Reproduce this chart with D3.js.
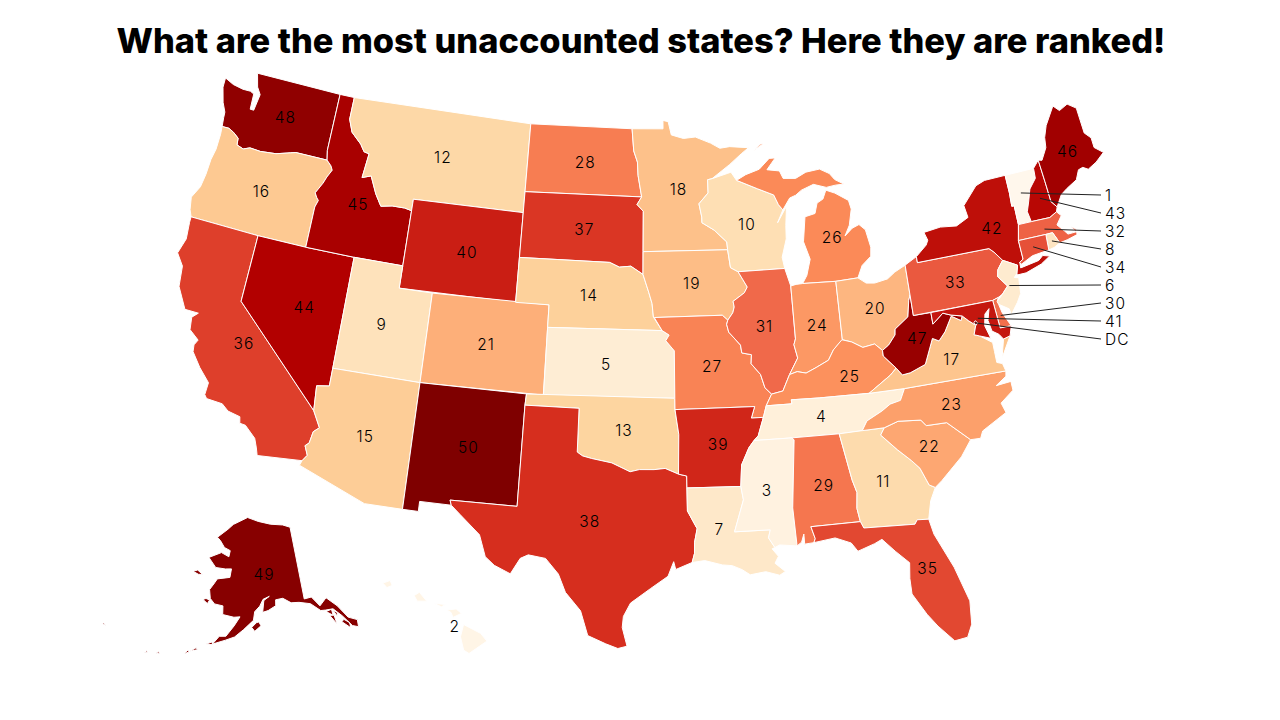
<!DOCTYPE html>
<html><head><meta charset="utf-8">
<script src="https://cdn.jsdelivr.net/npm/d3@7"></script>
<style>html,body{margin:0;background:#fff}svg{display:block}</style></head>
<body><svg id="c" width="1280" height="720"></svg>
<script>
const title = "What are the most unaccounted states? Here they are ranked!";
const stateCodes = ["WA","OR","CA","NV","ID","MT","WY","UT","AZ","CO","NM","ND","SD","NE","KS","OK","TX","MN","IA","MO","AR","LA","WI","IL","MI","IN","OH","KY","TN","MS","AL","GA","FL","SC","NC","VA","WV","PA","NY","VT","NH","ME","MA","RI","CT","NJ","DE","MD","DC","AK","HI"];
const ranks = [48,16,36,44,45,12,40,9,15,21,50,28,37,14,5,13,38,18,19,27,39,7,10,31,26,24,20,25,4,3,29,11,35,22,23,17,47,33,42,1,43,46,32,8,34,6,30,41,51,49,2];
const calloutStates = ["VT","NH","MA","RI","CT","NJ","DE","MD","DC"];
const calloutLabels = ["1","43","32","8","34","6","30","41","DC"];
const colorStops = ["#fff7ec","#fee8c8","#fdd49e","#fdbb84","#fc8d59","#ef6548","#d7301f","#b30000","#7f0000"];

const WA=[[[-122.76,49],[-117.03,49],[-117.04,46.42],[-116.92,45.99],[-118.98,46],[-119.3,45.93],[-120.2,45.73],[-121.2,45.65],[-121.9,45.68],[-122.3,45.55],[-122.75,45.65],[-122.8,45.95],[-123.2,46.15],[-123.55,46.26],[-124,46.25],[-124.07,46.65],[-124.1,46.9],[-124.4,47.3],[-124.7,47.95],[-124.72,48.38],[-124.1,48.2],[-123.4,48.12],[-122.88,48.13],[-122.62,48.05],[-122.57,47.35],[-122.33,47.35],[-122.2,48.1],[-122.5,48.4]]];
const OR=[[[-124,46.25],[-123.55,46.26],[-123.2,46.15],[-122.8,45.95],[-122.75,45.65],[-122.3,45.55],[-121.9,45.68],[-121.2,45.65],[-120.2,45.73],[-119.3,45.93],[-118.98,46],[-116.92,45.99],[-116.6,45.78],[-116.46,45.6],[-116.7,45.25],[-116.85,44.95],[-117.2,44.45],[-117.03,44.25],[-116.9,44.15],[-117.03,43.83],[-117.03,42],[-120,42],[-124.21,42],[-124.4,42.3],[-124.55,42.84],[-124.2,43.4],[-124.1,44],[-124.07,44.7],[-123.95,45.2],[-123.95,45.9]]];
const CA=[[[-124.21,42],[-120,42],[-120,39],[-114.63,35],[-114.14,34.3],[-114.43,34.08],[-114.53,33.55],[-114.72,33.4],[-114.5,33],[-114.72,32.72],[-117.12,32.53],[-117.25,32.85],[-117.45,33.25],[-118.1,33.72],[-118.42,33.75],[-118.5,34.03],[-119.2,34.15],[-119.6,34.4],[-120.5,34.45],[-120.65,34.6],[-120.62,35.15],[-121.3,35.7],[-121.9,36.3],[-121.95,36.6],[-121.8,36.85],[-122.4,37.2],[-122.5,37.75],[-122.2,38],[-123,38],[-123.7,38.9],[-123.85,39.8],[-124.35,40.3],[-124.1,41],[-124.2,41.75]]];
const NV=[[[-120,42],[-117.03,42],[-114.04,42],[-114.04,36.2],[-114.74,36.1],[-114.63,35],[-120,39]]];
const ID=[[[-117.03,49],[-116.05,49],[-116.05,48],[-115.72,47.45],[-115,47],[-114.7,46.7],[-114.35,46.65],[-114.5,45.55],[-113.95,45.7],[-113.45,44.95],[-113,44.45],[-112.3,44.55],[-111.5,44.55],[-111.05,44.48],[-111.05,42],[-114.04,42],[-117.03,42],[-117.03,43.83],[-116.9,44.15],[-117.03,44.25],[-117.2,44.45],[-116.85,44.95],[-116.7,45.25],[-116.46,45.6],[-116.6,45.78],[-116.92,45.99],[-117.04,46.42]]];
const MT=[[[-116.05,49],[-104.05,49],[-104.05,45],[-111.05,45],[-111.05,44.48],[-111.5,44.55],[-112.3,44.55],[-113,44.45],[-113.45,44.95],[-113.95,45.7],[-114.5,45.55],[-114.35,46.65],[-114.7,46.7],[-115,47],[-115.72,47.45],[-116.05,48]]];
const WY=[[[-111.05,45],[-104.05,45],[-104.05,41],[-111.05,41]]];
const UT=[[[-114.04,42],[-111.05,42],[-111.05,41],[-109.05,41],[-109.05,37],[-114.04,37]]];
const CO=[[[-109.05,41],[-102.05,41],[-102.05,37],[-109.05,37]]];
const AZ=[[[-114.04,37],[-109.05,37],[-109.05,31.33],[-111.07,31.33],[-114.81,32.5],[-114.72,32.72],[-114.5,33],[-114.72,33.4],[-114.53,33.55],[-114.43,34.08],[-114.14,34.3],[-114.63,35],[-114.74,36.1],[-114.04,36.2]]];
const NM=[[[-109.05,37],[-103,37],[-103.04,36.5],[-103.06,32],[-106.62,32],[-106.53,31.78],[-108.21,31.78],[-108.21,31.33],[-109.05,31.33]]];
const ND=[[[-104.05,49],[-97.23,49],[-97.1,48],[-96.85,47.5],[-96.8,46.9],[-96.56,45.94],[-104.05,45.94]]];
const SD=[[[-104.05,45.94],[-96.56,45.94],[-96.85,45.6],[-96.45,45.3],[-96.45,43.5],[-96.45,42.49],[-97.2,42.85],[-97.9,42.8],[-98.5,43],[-104.05,43]]];
const NE=[[[-104.05,43],[-98.5,43],[-97.9,42.8],[-97.2,42.85],[-96.45,42.49],[-96.1,41.7],[-95.9,41.2],[-95.82,40.6],[-95.31,40],[-102.05,40],[-102.05,41],[-104.05,41]]];
const KS=[[[-102.05,40],[-95.31,40],[-94.9,39.8],[-95.1,39.55],[-94.61,39.1],[-94.62,37],[-102.04,37]]];
const OK=[[[-103,37],[-94.62,37],[-94.62,36.5],[-94.43,35.4],[-94.48,33.64],[-95.2,33.9],[-95.8,33.85],[-96.6,33.85],[-97.1,33.75],[-97.7,33.98],[-98.1,34.13],[-99.2,34.3],[-99.7,34.4],[-100,34.56],[-100,36.5],[-103.04,36.5]]];
const TX=[[[-103.04,36.5],[-100,36.5],[-100,34.56],[-99.7,34.4],[-99.2,34.3],[-98.1,34.13],[-97.7,33.98],[-97.1,33.75],[-96.6,33.85],[-95.8,33.85],[-95.2,33.9],[-94.48,33.64],[-94.04,33.55],[-94.04,33.02],[-94.04,32],[-93.55,31.2],[-93.7,30.6],[-93.72,30.1],[-93.85,29.7],[-94.7,29.4],[-94.8,29.75],[-95.1,29.1],[-96,28.55],[-97,27.9],[-97.35,27.3],[-97.4,26.8],[-97.15,25.96],[-97.6,25.85],[-98.2,26.05],[-99.1,26.4],[-99.5,27.5],[-100.3,28.3],[-100.7,29.1],[-101.4,29.77],[-102.3,29.88],[-102.7,29.7],[-103.15,28.98],[-104,29.3],[-104.5,29.65],[-104.9,30.6],[-106,31.4],[-106.53,31.78],[-106.62,32],[-103.06,32]]];
const MN=[[[-97.23,49],[-95.15,49],[-95.15,49.38],[-94.8,49.32],[-94.6,48.72],[-93.8,48.55],[-93,48.6],[-92,48.3],[-91.4,48.05],[-90.75,48.1],[-89.5,48],[-90,47.75],[-90.8,47.3],[-92,46.7],[-92.29,46.66],[-92.29,46.07],[-92.9,45.6],[-92.75,45],[-92.75,44.75],[-92,44.4],[-91.25,43.85],[-91.22,43.5],[-96.45,43.5],[-96.45,45.3],[-96.85,45.6],[-96.56,45.94],[-96.8,46.9],[-96.85,47.5],[-97.1,48]]];
const IA=[[[-96.45,43.5],[-91.22,43.5],[-91.1,42.7],[-90.65,42.5],[-90.15,41.8],[-90.35,41.55],[-91.05,41.2],[-91,40.95],[-91.1,40.7],[-91.42,40.38],[-91.73,40.61],[-95.77,40.58],[-95.82,40.6],[-95.9,41.2],[-96.1,41.7],[-96.45,42.49]]];
const MO=[[[-95.77,40.58],[-91.73,40.61],[-91.42,40.38],[-91.5,40.2],[-91.4,39.85],[-90.75,39.25],[-90.7,38.9],[-90.15,38.8],[-90.2,38.4],[-89.7,37.9],[-89.5,37.3],[-89.15,37],[-89.5,36.5],[-89.7,36],[-90.37,36],[-90.15,36.5],[-94.62,36.5],[-94.62,37],[-94.61,39.1],[-95.1,39.55],[-94.9,39.8],[-95.31,40]]];
const AR=[[[-94.62,36.5],[-90.15,36.5],[-90.37,36],[-89.7,36],[-90.05,35.2],[-90.3,35],[-90.6,34.7],[-91.05,33.95],[-91.15,33],[-94.04,33.02],[-94.04,33.55],[-94.48,33.64],[-94.43,35.4]]];
const LA=[[[-94.04,33.02],[-91.15,33],[-91.05,32.4],[-91.6,31],[-89.73,31],[-89.85,30.65],[-89.55,30.2],[-89.7,30.15],[-89.4,29.8],[-89.6,29.5],[-89.1,29.1],[-89.4,28.95],[-90.1,29.15],[-90.9,29.05],[-91.3,29.3],[-91.8,29.5],[-92.3,29.55],[-93.2,29.77],[-93.85,29.7],[-93.72,30.1],[-93.7,30.6],[-93.55,31.2],[-94.04,32]]];
const MS=[[[-90.3,35],[-88.2,35],[-88.1,34.9],[-88.47,31.9],[-88.4,30.2],[-89.3,30.3],[-89.55,30.2],[-89.85,30.65],[-89.73,31],[-91.6,31],[-91.05,32.4],[-91.15,33],[-91.05,33.95],[-90.6,34.7]]];
const TN=[[[-90.3,35],[-90.05,35.2],[-89.7,36],[-89.5,36.5],[-88.05,36.5],[-88.07,36.68],[-86.5,36.65],[-83.68,36.6],[-81.68,36.59],[-82,36.1],[-82.6,36],[-83.1,35.75],[-84,35.4],[-84.32,35],[-85.6,34.98],[-88.2,35]]];
const KY=[[[-89.5,36.5],[-89.15,37],[-88.5,37.1],[-88.05,37.8],[-87.6,37.9],[-87.1,37.8],[-86.5,38],[-85.75,38.27],[-85.4,38.7],[-84.85,39.1],[-84.3,38.95],[-83.7,38.65],[-83,38.73],[-82.6,38.4],[-82.6,38.15],[-81.97,37.54],[-82.35,37.27],[-83.68,36.6],[-86.5,36.65],[-88.07,36.68],[-88.05,36.5]]];
const IL=[[[-90.65,42.5],[-87.8,42.5],[-87.53,41.7],[-87.53,39.35],[-87.65,39.1],[-87.5,38.5],[-88.05,37.8],[-88.5,37.1],[-89.15,37],[-89.5,37.3],[-89.7,37.9],[-90.2,38.4],[-90.15,38.8],[-90.7,38.9],[-90.75,39.25],[-91.4,39.85],[-91.5,40.2],[-91.42,40.38],[-91.1,40.7],[-91,40.95],[-91.05,41.2],[-90.35,41.55],[-90.15,41.8]]];
const IN=[[[-87.53,41.7],[-87.2,41.75],[-86.8,41.76],[-84.8,41.7],[-84.82,39.1],[-85.4,38.7],[-85.75,38.27],[-86.5,38],[-87.1,37.8],[-87.6,37.9],[-88.05,37.8],[-87.5,38.5],[-87.65,39.1],[-87.53,39.35]]];
const OH=[[[-84.8,41.7],[-83.45,41.73],[-83,41.45],[-82.5,41.4],[-81.7,41.5],[-81.2,41.75],[-80.52,41.98],[-80.52,40.64],[-80.65,40.4],[-80.85,39.7],[-81.7,39.25],[-81.75,39],[-82.2,38.6],[-82.6,38.4],[-83,38.73],[-83.7,38.65],[-84.3,38.95],[-84.82,39.1]]];
const MI=[[[-86.8,41.76],[-86.5,42.1],[-86.2,42.8],[-86.5,43.6],[-86.25,44.7],[-85.6,44.8],[-85.4,45.25],[-85,45.4],[-84.75,45.78],[-84.2,45.6],[-83.4,45.2],[-83.3,44.8],[-83.55,44.1],[-83.9,43.65],[-83.4,43.95],[-82.95,44.07],[-82.6,43.8],[-82.42,43],[-82.5,42.6],[-83.1,42.25],[-83.45,41.73],[-84.8,41.7]],
 [[-90.42,46.57],[-89.8,46.8],[-88.9,47],[-88.2,47.45],[-87.8,47.45],[-88.4,46.95],[-87.6,46.85],[-87.4,46.5],[-86.6,46.45],[-85.9,46.68],[-85,46.75],[-84.4,46.5],[-84.1,46.2],[-83.55,45.95],[-84.1,45.95],[-84.7,45.9],[-85.5,46.1],[-86.3,45.9],[-86.7,45.7],[-87.1,45.6],[-87.6,45.1],[-87.85,45.35],[-88.1,45.8],[-89.1,46.13]],
 [[-89.2,47.85],[-88.45,48.15],[-88.7,48.12]]];
const WI=[[[-92.29,46.66],[-92,46.7],[-91,46.9],[-90.75,46.95],[-90.42,46.57],[-89.1,46.13],[-88.1,45.8],[-87.85,45.35],[-87.6,45.1],[-88,44.55],[-87.35,45.25],[-87.5,44.4],[-87.55,43.8],[-87.9,43],[-87.8,42.5],[-90.65,42.5],[-91.1,42.7],[-91.22,43.5],[-91.25,43.85],[-92,44.4],[-92.75,44.75],[-92.75,45],[-92.9,45.6],[-92.29,46.07]]];
const ME=[[[-71.08,45.3],[-70.85,45.25],[-70.4,45.75],[-70.3,46.2],[-70,46.7],[-69.23,47.46],[-68.9,47.18],[-68.3,47.36],[-67.8,47.07],[-67.78,45.9],[-67.45,45.6],[-67.45,45.15],[-66.98,44.82],[-67.6,44.5],[-68.2,44.3],[-68.5,44.45],[-68.8,44.4],[-69.1,44],[-69.8,43.75],[-70.25,43.55],[-70.7,43.07],[-70.98,43.37],[-71.02,44.3]]];
const NH=[[[-71.5,45],[-71.08,45.3],[-71.02,44.3],[-70.98,43.37],[-70.7,43.07],[-70.82,42.87],[-71.3,42.7],[-72.46,42.73],[-72.55,43.2],[-72.3,43.65],[-72.05,44.15],[-71.55,44.55]]];
const VT=[[[-73.35,45.01],[-71.5,45],[-71.55,44.55],[-72.05,44.15],[-72.3,43.65],[-72.55,43.2],[-72.46,42.73],[-73.27,42.74],[-73.25,43.6],[-73.4,43.6],[-73.35,44.2]]];
const NY=[[[-79.76,42.27],[-79.05,42.7],[-78.9,42.9],[-79.05,43.27],[-78,43.37],[-77,43.28],[-76.2,43.55],[-76.3,44.1],[-75.3,44.85],[-74.7,45],[-73.35,45.01],[-73.35,44.2],[-73.4,43.6],[-73.25,43.6],[-73.27,42.74],[-73.5,42.05],[-73.49,41.2],[-73.73,41.1],[-73.75,40.85],[-72.6,40.98],[-72.3,41.15],[-71.9,41.05],[-72.5,40.8],[-73.5,40.58],[-74,40.58],[-74.05,40.65],[-73.9,41],[-74.7,41.36],[-75.1,41.8],[-75.35,42],[-79.76,42]]];
const MA=[[[-73.5,42.05],[-73.27,42.74],[-72.46,42.73],[-71.3,42.7],[-70.82,42.87],[-70.6,42.65],[-71,42.3],[-70.65,41.95],[-70.5,41.78],[-70,41.78],[-70.2,42.07],[-69.95,41.9],[-69.98,41.65],[-70.6,41.55],[-71.12,41.5],[-71.2,41.67],[-71.38,42.02],[-71.8,42.02]]];
const RI=[[[-71.8,42.02],[-71.38,42.02],[-71.2,41.67],[-71.12,41.5],[-71.5,41.37],[-71.86,41.32]]];
const CT=[[[-73.5,42.05],[-71.8,42.02],[-71.86,41.32],[-72.9,41.25],[-73.65,41],[-73.73,41.1],[-73.49,41.2]]];
const NJ=[[[-74.7,41.36],[-73.9,41],[-74.05,40.65],[-74.25,40.5],[-74,40.45],[-74.1,39.75],[-74.4,39.4],[-74.9,38.93],[-74.95,39.2],[-75.5,39.5],[-75.55,39.63],[-75.15,39.9],[-74.75,40.2],[-75.2,40.7],[-75.1,41]]];
const PA=[[[-80.52,41.98],[-79.76,42.27],[-79.76,42],[-75.35,42],[-75.1,41.8],[-74.7,41.36],[-75.1,41],[-75.2,40.7],[-74.75,40.2],[-75.15,39.9],[-75.42,39.8],[-75.79,39.72],[-80.52,39.72]]];
const DE=[[[-75.79,39.72],[-75.42,39.8],[-75.55,39.63],[-75.5,39.5],[-75.4,39.1],[-75.05,38.45],[-75.7,38.46]]];
const MD=[[[-79.48,39.72],[-75.79,39.72],[-75.7,38.46],[-75.05,38.45],[-75.24,38.03],[-75.65,37.95],[-75.85,38.2],[-76.2,38.4],[-76.3,38.9],[-76.1,39.4],[-76.4,39.2],[-76.55,38.7],[-76.35,38.1],[-76.95,38.3],[-77.25,38.4],[-77.05,38.8],[-77.4,39.05],[-77.72,39.32],[-78.35,39.45],[-78.8,39.6],[-79.48,39.2]]];
const DC=[[[-77.12,38.93],[-77.03,39],[-76.91,38.89],[-77.04,38.79]]];
const VA=[[[-83.68,36.6],[-81.68,36.59],[-75.9,36.55],[-76,36.9],[-76.3,37],[-76.3,37.5],[-76.3,37.9],[-76.95,38.3],[-77.25,38.4],[-77.05,38.8],[-77.4,39.05],[-77.72,39.32],[-77.83,39.13],[-78.35,39.4],[-78.87,38.77],[-79.3,38.42],[-79.65,38.58],[-80.3,37.5],[-81.22,37.24],[-81.68,37.2],[-81.97,37.54],[-82.35,37.27]],
 [[-75.65,37.95],[-75.24,38.03],[-75.95,37.15]]];
const WV=[[[-82.6,38.15],[-82.6,38.4],[-82.2,38.6],[-81.75,39],[-81.7,39.25],[-80.85,39.7],[-80.65,40.4],[-80.52,40.64],[-80.52,39.72],[-79.48,39.72],[-79.48,39.2],[-78.8,39.6],[-78.35,39.45],[-77.72,39.32],[-77.83,39.13],[-78.35,39.4],[-78.87,38.77],[-79.3,38.42],[-79.65,38.58],[-80.3,37.5],[-81.22,37.24],[-81.68,37.2],[-81.97,37.54]]];
const NC=[[[-84.32,35],[-84,35.4],[-83.1,35.75],[-82.6,36],[-82,36.1],[-81.68,36.59],[-75.9,36.55],[-75.96,36.32],[-76.6,36],[-75.75,36.05],[-75.74,35.65],[-76.53,35.2],[-76.37,34.75],[-77.82,34.15],[-78,33.85],[-78.55,33.87],[-79.67,34.8],[-80.8,34.82],[-81.05,35.1],[-82.3,35.2],[-83.1,35]]];
const SC=[[[-83.1,35],[-82.3,35.2],[-81.05,35.1],[-80.8,34.82],[-79.67,34.8],[-78.55,33.87],[-79.2,33.2],[-79.9,32.7],[-80.45,32.3],[-80.85,32.05],[-81.15,32.2],[-81.5,33],[-81.9,33.4],[-82.55,33.95],[-83.35,34.7]]];
const GA=[[[-85.6,34.98],[-84.32,35],[-83.1,35],[-83.35,34.7],[-82.55,33.95],[-81.9,33.4],[-81.5,33],[-81.15,32.2],[-80.85,32.05],[-81.2,31.5],[-81.45,30.7],[-82.05,30.75],[-82.2,30.57],[-84.86,30.7],[-85,31],[-85.1,31.6],[-85,32.3],[-85.18,32.87]]];
const FL=[[[-87.6,31],[-85,31],[-84.86,30.7],[-82.2,30.57],[-82.05,30.75],[-81.45,30.7],[-81.3,30],[-80.55,28.4],[-80.05,26.8],[-80.15,25.75],[-80.45,25.2],[-81.1,25.13],[-81.8,25.9],[-82.25,26.5],[-82.85,27.5],[-82.85,28.2],[-82.75,28.9],[-83.4,29.5],[-84,30.1],[-84.4,29.95],[-85.3,29.7],[-85.6,30.1],[-86.4,30.4],[-87.52,30.28],[-87.43,30.45]]];
const AL=[[[-88.2,35],[-85.6,34.98],[-85.18,32.87],[-85,32.3],[-85.1,31.6],[-85,31],[-87.6,31],[-87.43,30.45],[-87.52,30.28],[-88,30.25],[-88,30.7],[-88.15,30.35],[-88.4,30.2],[-88.47,31.9],[-88.1,34.9]]];
const AK=[[[-141,69.65],[-141,60.3],[-139.1,60.35],[-137.5,59],[-135.5,59.8],[-133.4,58.4],[-131.8,56.6],[-130,55.9],[-130.3,55],[-131.5,55.4],[-133,57],[-134.6,58.2],[-136.4,58.3],[-137.6,58.4],[-139.7,59.55],[-142.5,60],[-144.5,60.1],[-146.5,60.8],[-148.4,60.7],[-148.5,59.95],[-150.5,59.4],[-151.9,59.2],[-151.5,60.7],[-150,61.2],[-151.7,60.85],[-152.6,60],[-153.9,59.3],[-154.2,58.2],[-156.5,57],[-158.5,56],[-160.5,55.5],[-163.3,54.8],[-162,55.9],[-160.5,56],[-158.8,57.4],[-157.5,58.6],[-159,58.5],[-161.8,58.7],[-162,59.8],[-164.2,59.9],[-165.5,60.5],[-166.1,61.6],[-165,62.6],[-164.5,63.1],[-161,63.5],[-160.8,64.6],[-162.6,64.5],[-165.5,64.5],[-168.1,65.6],[-164.5,66.5],[-162,66.1],[-161.8,66.9],[-163.8,67.2],[-165.5,68],[-166.7,68.35],[-163.5,69.6],[-161.8,70.3],[-156.6,71.35],[-152.5,70.85],[-148,70.4],[-143.5,70.1]],
 [[-154.6,57.3],[-153.9,56.8],[-152.4,57.5],[-152.9,58],[-153.5,57.9]],
 [[-167.3,60.2],[-166,59.8],[-165.6,60.3],[-166.6,60.4]],
 [[-171.7,63.4],[-170,63.2],[-168.8,63.3],[-170.5,63.7]],
 [[-164.9,54.6],[-163.2,54.75],[-163.5,55.05]],
 [[-167.8,53.4],[-166.3,53.8],[-166.7,54]],
 [[-169,52.9],[-168,53.3],[-168.3,53.5]],
 [[-174.6,52.05],[-173.9,52.1],[-174.2,52.35]],
 [[-176.9,51.7],[-176.4,51.8],[-176.6,52]],
 [[172.5,52.85],[173.4,52.8],[172.9,53]],
 [[-133.5,56.3],[-132,55.2],[-131.9,55.9],[-132.9,56.5]],
 [[-135.8,57.5],[-134.7,56.2],[-134.8,57.4]],
 [[-136.4,58.1],[-135,57.4],[-135,58.2]],
 [[-134.7,58],[-134.1,57.1],[-133.9,57.6]]];
const HI=[[[-155.9,20.25],[-155.1,19.85],[-154.8,19.5],[-155.65,18.95],[-155.9,19.1],[-156.05,19.7]],
 [[-156.7,20.9],[-156.25,20.95],[-156,20.75],[-156.4,20.57],[-156.5,20.8]],
 [[-157.3,21.2],[-156.75,21.15],[-156.95,21.05]],
 [[-158.25,21.55],[-158,21.7],[-157.65,21.3],[-158.1,21.3]],
 [[-159.75,22.1],[-159.4,22.22],[-159.3,22],[-159.55,21.9]]];
const shapes={WA,OR,CA,NV,ID,MT,WY,UT,AZ,CO,NM,ND,SD,NE,KS,OK,TX,MN,IA,MO,AR,LA,WI,IL,MI,IN,OH,KY,TN,MS,AL,GA,FL,SC,NC,VA,WV,PA,NY,VT,NH,ME,MA,RI,CT,NJ,DE,MD,DC,AK,HI};

// layout: how far each state's label sits from its computed centroid
const labelNudge={WA:[4,0],OR:[1,0],CA:[4,0],NV:[5,0],ID:[3,1],MT:[1,1],WY:[4,2],UT:[-1,1],AZ:[1,0],ND:[3,1],SD:[1,1],NE:[2,1],KS:[-3,1],OK:[1,1],TX:[2,-1],MN:[1,1],AR:[3,0],LA:[-9,-3],WI:[1,1],IL:[-2,1],MI:[-2,-5],IN:[2,2],OH:[2,0],KY:[11,1],TN:[-3,1],MS:[-2,0],AL:[2,0],GA:[-2,0],FL:[11,0],SC:[1,0],NC:[1,0],VA:[2,0],WV:[2,-2],PA:[1,1],NY:[10,0],ME:[2,0],AK:[5,1],HI:[-4,-2],NM:[3,1]};

const W=1280,H=720,k=1283,cx=640,cy=360;
const lower=d3.geoAlbers().scale(k).translate([cx,cy]);
const alaska=d3.geoConicEqualArea().rotate([154,0]).center([-2,58.5]).parallels([55,65]).scale(k*0.35).translate([cx-0.307*k,cy+0.201*k]);
const hawaii=d3.geoConicEqualArea().rotate([157,0]).center([-3,19.9]).parallels([8,18]).scale(k).translate([cx-0.205*k,cy+0.212*k]);
const pathFor=code=>d3.geoPath(code==="AK"?alaska:code==="HI"?hawaii:lower);

const color=d3.scaleLinear().domain(colorStops.map((c,i)=>1+i*49/(colorStops.length-1))).range(colorStops).clamp(true);

function feature(code){
  const rings=shapes[code].map(r=>{
    const ring=[...r,r[0]];
    const poly={type:"Polygon",coordinates:[ring]};
    return d3.geoArea(poly)>Math.PI*2?[ring.slice().reverse()]:[ring];
  });
  return {type:"Feature",id:code,geometry:{type:"MultiPolygon",coordinates:rings}};
}
const features=stateCodes.map(feature);
const rankOf=new Map(stateCodes.map((c,i)=>[c,ranks[i]]));
const svg=d3.select("#c");
svg.append("text").attr("x",W/2+1).attr("y",53).attr("text-anchor","middle")
  .attr("font-family","Inter, sans-serif").attr("font-weight",800).attr("font-size",34.4).attr("fill","#000").text(title);

svg.append("g").selectAll("path").data(features).join("path")
  .attr("d",f=>pathFor(f.id)(f)).attr("fill",f=>color(rankOf.get(f.id)))
  .attr("stroke","#fff").attr("stroke-width",1).attr("stroke-linejoin","round");

const mainOf=f=>f.id==="HI"?f:({type:"Feature",geometry:{type:"Polygon",coordinates:f.geometry.coordinates[0]}});
const called=new Set(calloutStates);
svg.append("g").selectAll("text").data(features.filter(f=>!called.has(f.id))).join("text")
  .each(function(f){const c=pathFor(f.id).centroid(mainOf(f)),n=labelNudge[f.id]||[0,0];d3.select(this).attr("x",c[0]+n[0]).attr("y",c[1]+n[1]);})
  .attr("text-anchor","middle").attr("dy","0.35em").attr("font-family","Inter, sans-serif").attr("font-size",15.5).attr("font-weight",300).attr("letter-spacing",1)
  .attr("fill","#000").text(f=>rankOf.get(f.id));

const yCall=d3.scalePoint().domain(calloutStates).range([195,339]);
const byCode=new Map(features.map(f=>[f.id,f]));
svg.append("g").selectAll("line").data(calloutStates).join("line")
  .each(function(c){const p=pathFor(c).centroid(mainOf(byCode.get(c)));d3.select(this).attr("x1",p[0]).attr("y1",p[1]);})
  .attr("x2",1101).attr("y2",c=>yCall(c)).attr("stroke","#222").attr("stroke-width",1);
svg.append("g").selectAll("text").data(calloutStates).join("text")
  .attr("x",1105).attr("y",c=>yCall(c)+1).attr("dy","0.35em").attr("font-family","Inter, sans-serif").attr("font-size",15.5).attr("font-weight",300).attr("letter-spacing",1)
  .attr("fill","#000").text((c,i)=>calloutLabels[i]);
</script></body></html>
